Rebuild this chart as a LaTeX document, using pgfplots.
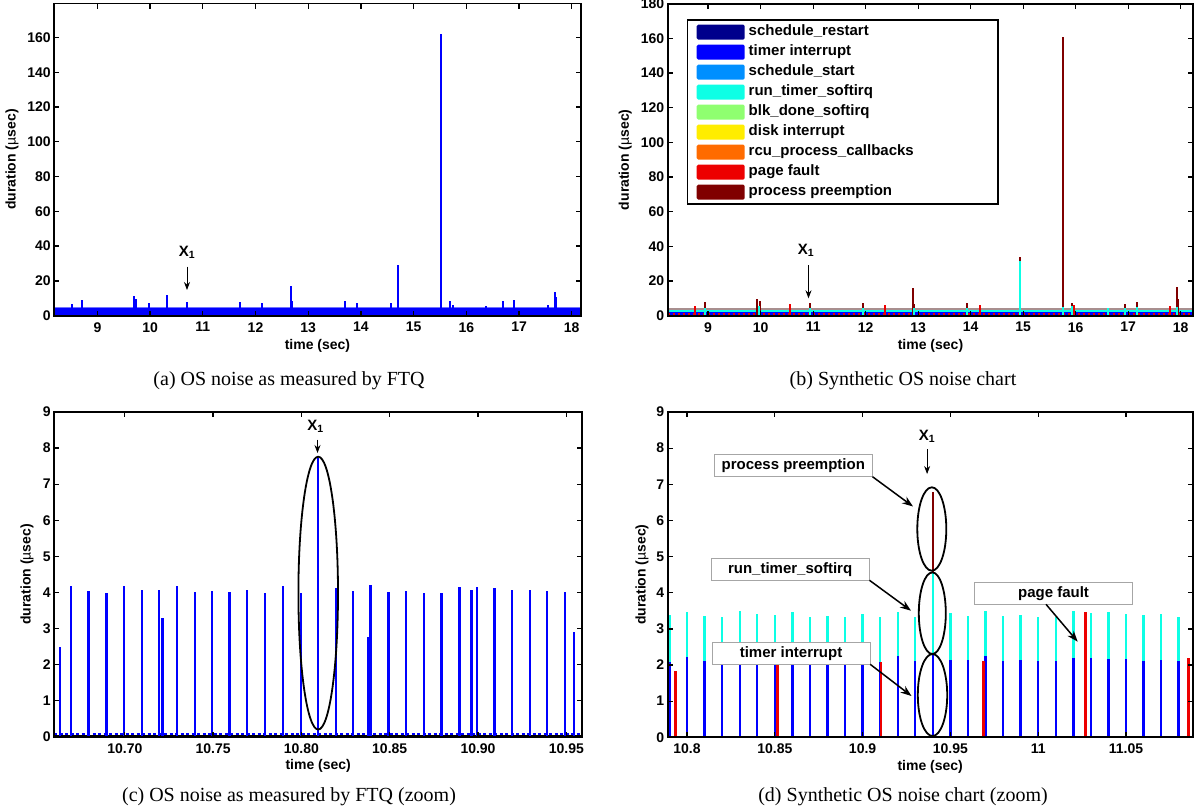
\documentclass[border=0pt]{standalone}
\usepackage{fontspec}
\setmainfont{Liberation Sans}
\newfontfamily\capfont{Liberation Serif}
\usepackage{pgfplots}
\pgfplotsset{compat=1.18}
\usetikzlibrary{arrows.meta}

% event colours (MATLAB jet-like)
\definecolor{cSR}{rgb}{0,0,0.55}
\definecolor{cTI}{rgb}{0,0,1}
\definecolor{cSS}{rgb}{0,0.56,1}
\definecolor{cRT}{rgb}{0.05,1,0.9}
\definecolor{cBD}{rgb}{0.56,1,0.44}
\definecolor{cDI}{rgb}{1,0.93,0}
\definecolor{cRC}{rgb}{1,0.42,0}
\definecolor{cPF}{rgb}{0.93,0,0}
\definecolor{cPP}{rgb}{0.5,0,0}
\definecolor{cBand}{rgb}{0.66,0.56,0.56}

\newcommand{\tfont}{\fontsize{14}{16}\selectfont\bfseries}
\newcommand{\lfont}{\fontsize{15}{17}\selectfont\bfseries}
\newcommand{\cfont}{\capfont\fontsize{20}{22}\selectfont}

\pgfplotsset{
  noise/.style={
    scale only axis, anchor=south west,
    axis on top,
    axis line style={line width=1.8pt},
    tick style={line width=1.3pt, black},
    major tick length=5pt,
    tick align=inside,
    xtick pos=both, ytick pos=both,
    tick label style={font=\tfont},
    xticklabel style={yshift=-3pt},
    /pgf/number format/assume math mode=true,
    label style={font=\tfont},
    xlabel={time (sec)},
    ylabel={duration (\textmd{µ}sec)},
    ymin=0,
    scaled ticks=false,
  },
  spike/.style={ycomb, line width=2pt, mark=none, forget plot},
}

\begin{document}
\begin{tikzpicture}[x=1pt,y=1pt]
\useasboundingbox (0,0) rectangle (1198,-811);

% ---------------- (a) OS noise as measured by FTQ
\begin{axis}[noise,
  at={(54.2pt,-315.7pt)}, width=526.5pt, height=312.2pt,
  xmin=8.18, xmax=18.17, ymax=179.5,
  xtick={9,...,18}, ytick={0,20,...,160},
  ylabel style={at={(axis description cs:-0.080,0.5)}, anchor=center},
  xlabel style={at={(axis description cs:0.5,-0.097)}, anchor=center},
]
\addplot[fill=cTI, draw=none, forget plot] coordinates {(8.18,4.2) (18.17,4.2)} \closedcycle;
\addplot[cTI!55, line width=1pt, forget plot] coordinates {(8.18,4.6) (18.17,4.6)};
\addplot[spike, cTI] coordinates {
 (8.51,6.7) (8.70,8.8) (9.70,11.1) (9.74,9.6) (9.98,7.1) (10.32,11.7)
 (10.70,8.0) (11.70,8.0) (12.13,7.1) (12.67,17.2) (12.70,8.2) (13.70,8.2)
 (13.93,7.1) (14.57,7.1) (14.70,29.3) (15.51,161.9) (15.69,8.6) (15.74,6.3)
 (16.37,5.4) (16.69,8.2) (16.90,9.2) (17.55,6.3) (17.68,13.6) (17.71,11.0)
};
\end{axis}

% ---------------- (b) Synthetic OS noise chart
\begin{axis}[noise,
  at={(667.7pt,-315.7pt)}, width=525.6pt, height=312pt,
  xmin=8.23, xmax=18.24, ymax=180,
  xtick={9,...,18}, ytick={0,20,...,180},
  ylabel style={at={(axis description cs:-0.081,0.5)}, anchor=center},
  xlabel style={at={(axis description cs:0.5,-0.097)}, anchor=center},
  legend image code/.code={\fill[#1, rounded corners=1.5pt] (0pt,-7.5pt) rectangle (48pt,7.5pt);},
  legend style={at={(axis description cs:0.0367,0.95)}, anchor=north west,
    draw=black, line width=1.5pt, inner xsep=9pt, inner ysep=2pt,
    column sep=0pt, font=\lfont, cells={anchor=west},
    nodes={inner xsep=4pt, inner ysep=2.5pt, text height=11pt, text depth=4pt}},
]
\addlegendimage{fill=cSR, draw=none}\addlegendentry{\makebox[236pt][l]{schedule\_restart}}
\addlegendimage{fill=cTI, draw=none}\addlegendentry{timer interrupt}
\addlegendimage{fill=cSS, draw=none}\addlegendentry{schedule\_start}
\addlegendimage{fill=cRT, draw=none}\addlegendentry{run\_timer\_softirq}
\addlegendimage{fill=cBD, draw=none}\addlegendentry{blk\_done\_softirq}
\addlegendimage{fill=cDI, draw=none}\addlegendentry{disk interrupt}
\addlegendimage{fill=cRC, draw=none}\addlegendentry{rcu\_process\_callbacks}
\addlegendimage{fill=cPF, draw=none}\addlegendentry{page fault}
\addlegendimage{fill=cPP, draw=none}\addlegendentry{process preemption}
% dense background of periodic events
\addplot[fill=cTI, draw=none, forget plot] coordinates {(8.23,2.2) (18.24,2.2)} \closedcycle;
\addplot[cPF, line width=2.5pt, dash pattern=on 2.5pt off 2.5pt, forget plot] coordinates {(8.23,0.8) (18.24,0.8)};
\addplot[cRT, line width=1.6pt, forget plot] coordinates {(8.23,2.7) (18.24,2.7)};
\addplot[cBand, line width=1.5pt, forget plot] coordinates {(8.23,3.8) (18.24,3.8)};
% process preemption
\addplot[spike, cPP] coordinates {
 (8.94,7.9) (9.94,9.8) (9.98,8.3) (10.94,7.1) (11.94,7.1) (12.91,16.0)
 (12.93,6.7) (13.93,7.1) (14.94,33.8) (15.76,160.6) (15.93,7.5) (16.94,7.0)
 (17.16,8.0) (17.92,16.4) (17.94,9.8)
};
% run_timer_softirq
\addplot[spike, cRT] coordinates {
 (8.94,4.6) (9.97,5.5) (10.94,4.2) (11.94,4.4) (12.93,4.6) (13.93,4.4)
 (14.94,31.3) (15.76,5.0) (15.93,5.4) (16.61,4.6) (16.94,4.4) (17.16,5.0)
 (17.93,5.0)
};
% page fault
\addplot[spike, cPF] coordinates {
 (8.75,5.8) (10.56,6.7) (12.37,6.2) (14.17,6.3) (15.97,6.0) (17.80,5.7)
};
\end{axis}

% ---------------- (c) OS noise as measured by FTQ (zoom)
\begin{axis}[noise,
  at={(54.2pt,-736.7pt)}, width=528pt, height=324.7pt,
  xmin=10.66, xmax=10.959, ymax=9,
  xtick={10.70,10.75,10.80,10.85,10.90,10.95},
  xticklabels={10.70,10.75,10.80,10.85,10.90,10.95},
  ytick={0,...,9},
  ylabel style={at={(axis description cs:-0.0515,0.5)}, anchor=center},
  xlabel style={at={(axis description cs:0.5,-0.090)}, anchor=center},
]
\addplot[black, line width=0.8pt, forget plot] coordinates {(10.66,0.03) (10.959,0.03)};
\addplot[cTI, line width=1.4pt, dash pattern=on 3pt off 2.5pt, forget plot] coordinates {(10.66,0.07) (10.959,0.07)};
\addplot[spike, cTI, line width=2.4pt] coordinates {
 (10.6632,2.50) (10.6695,4.17) (10.6794,4.04) (10.6896,3.97) (10.6996,4.17)
 (10.7097,4.08) (10.7195,4.08) (10.7214,3.30) (10.7294,4.17) (10.7396,4.01)
 (10.7494,4.04) (10.7593,4.01) (10.7693,4.06) (10.7794,3.97) (10.7894,4.17)
 (10.7996,3.98) (10.8095,7.72) (10.8195,4.11) (10.8292,4.04) (10.8379,2.77)
 (10.8392,4.21) (10.8494,4.01) (10.8593,4.04) (10.8693,3.98) (10.8794,3.98)
 (10.8894,4.14) (10.8963,4.08) (10.8994,4.14) (10.9093,4.11) (10.9193,4.06)
 (10.9294,4.06) (10.9392,4.04) (10.9494,4.01) (10.9543,2.89)
};
\end{axis}

% ---------------- (d) Synthetic OS noise chart (zoom)
\begin{axis}[noise,
  at={(667.7pt,-737.3pt)}, width=525pt, height=325.3pt,
  xmin=10.789, xmax=11.088, ymax=9,
  xtick={10.8,10.85,10.9,10.95,11,11.05},
  xticklabels={10.8,10.85,10.9,10.95,11,11.05},
  ytick={0,...,9},
  ylabel style={at={(axis description cs:-0.049,0.5)}, anchor=center},
  xlabel style={at={(axis description cs:0.5,-0.090)}, anchor=center},
]
% process preemption (X1)
\addplot[spike, cPP, line width=2.4pt] coordinates {(10.94,6.80)};
% run_timer_softirq (stacked on top of the timer interrupt)
\addplot[spike, cRT, line width=2.4pt] coordinates {
 (10.79,3.39) (10.80,3.48) (10.81,3.35) (10.82,3.32) (10.83,3.49) (10.84,3.41)
 (10.85,3.39) (10.86,3.46) (10.87,3.34) (10.88,3.37) (10.89,3.34) (10.90,3.40)
 (10.91,3.34) (10.92,3.48) (10.93,3.34) (10.94,4.57) (10.95,3.43) (10.96,3.37)
 (10.97,3.49) (10.98,3.36) (10.99,3.39) (11.00,3.33) (11.01,3.32) (11.02,3.50)
 (11.03,3.45) (11.04,3.48) (11.05,3.41) (11.06,3.39) (11.07,3.40) (11.08,3.34)
};
% timer interrupt
\addplot[spike, cTI, line width=2.4pt] coordinates {
 (10.79,2.08) (10.80,2.22) (10.81,2.12) (10.82,2.05) (10.83,2.07) (10.84,2.08)
 (10.85,2.10) (10.86,2.07) (10.87,2.08) (10.88,2.08) (10.89,2.07) (10.90,2.09)
 (10.91,2.08) (10.92,2.24) (10.93,2.10) (10.94,2.33) (10.95,2.14) (10.96,2.14)
 (10.97,2.24) (10.98,2.12) (10.99,2.14) (11.00,2.10) (11.01,2.10) (11.02,2.20)
 (11.03,2.20) (11.04,2.17) (11.05,2.17) (11.06,2.12) (11.07,2.15) (11.08,2.10)
};
% page fault
\addplot[spike, cPF, line width=2.4pt] coordinates {
 (10.7935,1.83) (10.8515,2.10) (10.9105,2.08) (10.9688,2.10) (11.0270,3.47) (11.0857,2.19)
};
\end{axis}

% ---------------- annotations
\tikzset{x1arrow/.style={-{Stealth[length=8pt,width=6pt]}, line width=0.8pt},
         callout/.style={-{Stealth[length=11pt,width=8pt]}, line width=1.5pt},
         tag/.style={draw=gray!70, line width=1pt, fill=white, minimum width=158pt,
                     minimum height=22pt, inner sep=0pt, font=\lfont}}
% (a)
\node[font=\lfont] at (187,-252.3) {X\textsubscript{1}};
\draw[x1arrow] (187,-266.7) -- (187,-290);
% (b)
\node[font=\lfont] at (806,-250.7) {X\textsubscript{1}};
\draw[x1arrow] (808.5,-265) -- (808.5,-298.3);
% (c)
\node[font=\lfont] at (315.6,-426.7) {X\textsubscript{1}};
\draw[x1arrow] (317.5,-439.5) -- (317.5,-453);
\draw[line width=1.8pt] (318.2,-593.1) ellipse [x radius=19.8pt, y radius=136.4pt];
% (d)
\node[font=\lfont] at (927.1,-436.7) {X\textsubscript{1}};
\draw[x1arrow] (927.1,-449.3) -- (927.1,-474);
\draw[line width=1.8pt] (932.5,-695) ellipse [x radius=14.7pt, y radius=41pt];
\draw[line width=1.8pt] (932.3,-613.2) ellipse [x radius=13.5pt, y radius=40.8pt];
\draw[line width=1.8pt] (931.8,-529) ellipse [x radius=14.5pt, y radius=41.7pt];
\node[tag] at (793.3,-465.5) {process preemption};
\node[tag] at (790.1,-569.8) {run\_timer\_softirq};
\node[tag] at (791,-653.5) {timer interrupt};
\node[tag] at (1053.5,-593.3) {page fault};
\draw[callout] (872.5,-476.7) -- (913,-506.5);
\draw[callout] (869.5,-580.3) -- (911,-610.7);
\draw[callout] (870.2,-664.3) -- (911.5,-696);
\draw[callout] (1046,-604.3) -- (1077.7,-641.7);

% ---------------- captions
\node[font=\cfont] at (289,-381) {(a) OS noise as measured by FTQ};
\node[font=\cfont] at (903,-381) {(b) Synthetic OS noise chart};
\node[font=\cfont] at (289,-797) {(c) OS noise as measured by FTQ (zoom)};
\node[font=\cfont] at (903,-797) {(d) Synthetic OS noise chart (zoom)};
\end{tikzpicture}
\end{document}
